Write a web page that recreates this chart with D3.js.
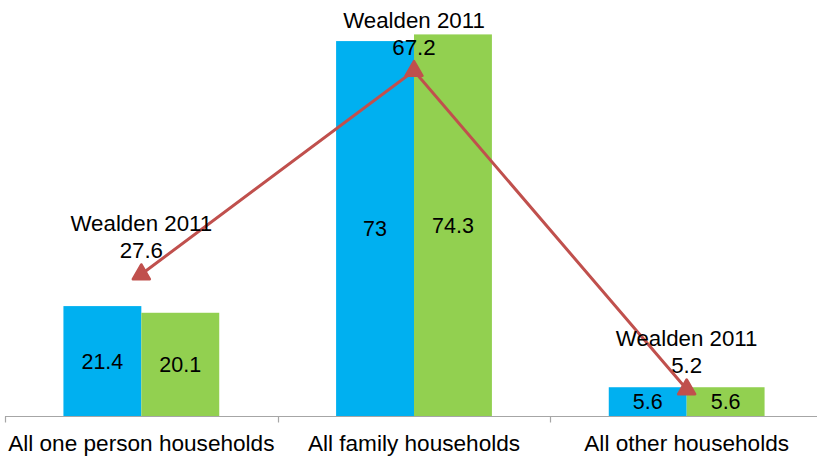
<!DOCTYPE html>
<html><head><meta charset="utf-8">
<script src="https://d3js.org/d3.v7.min.js"></script>
<style>body{margin:0;background:#fff;} svg{display:block;font-family:"Liberation Sans",Arial,sans-serif;}</style>
</head><body>
<svg id="c" width="817" height="457"></svg>
<script>
const categories = ["All one person households", "All family households", "All other households"];
const seriesBlue = [21.4, 73, 5.6];
const seriesGreen = [20.1, 74.3, 5.6];
const wealden = [27.6, 67.2, 5.2];
const lineLabel = "Wealden 2011";

const svg = d3.select("#c");
const x = d3.scaleBand().domain(categories).range([5, 823]).paddingInner(0).paddingOuter(0);
const y = d3.scaleLinear().domain([0, 81]).range([416, 0]);
const sub = d3.scaleBand().domain([0, 1]).range([0, x.bandwidth()]).paddingInner(0).paddingOuter(0.75);
const colors = ["#00B0F0", "#92D050"];
const series = [seriesBlue, seriesGreen];

series.forEach((vals, si) => {
  const g = svg.append("g");
  g.selectAll("rect").data(vals).join("rect")
    .attr("x", (d, i) => x(categories[i]) + sub(si))
    .attr("width", sub.bandwidth())
    .attr("y", d => y(d))
    .attr("height", d => y(0) - y(d))
    .attr("fill", colors[si]);
  g.selectAll("text").data(vals).join("text")
    .attr("x", (d, i) => x(categories[i]) + sub(si) + sub.bandwidth() / 2)
    .attr("y", d => (y(d) + y(0)) / 2)
    .attr("dy", "0.35em")
    .attr("text-anchor", "middle")
    .attr("font-size", 21.5)
    .attr("fill", "#000")
    .text(d => d);
});

// axis
const axis = svg.append("g").attr("transform", "translate(0,416.5)");
axis.append("line").attr("x1", 5).attr("x2", 817).attr("stroke", "#A6A6A6").attr("stroke-width", 1.2);
const tickPos = categories.map(c => x(c)).concat([x.range()[1]]);
axis.selectAll("line.t").data(tickPos).join("line").attr("class", "t")
  .attr("x1", d => Math.round(d) + 0.5).attr("x2", d => Math.round(d) + 0.5)
  .attr("y1", 0).attr("y2", 6).attr("stroke", "#A6A6A6").attr("stroke-width", 1.2);
axis.selectAll("text").data(categories).join("text")
  .attr("x", d => x(d) + x.bandwidth() / 2)
  .attr("y", 27)
  .attr("dy", "0.35em")
  .attr("text-anchor", "middle")
  .attr("font-size", 22.6)
  .attr("fill", "#000")
  .text(d => d);

// line
const cx = (d, i) => x(categories[i]) + x.bandwidth() / 2;
const line = d3.line().x(cx).y(d => y(d));
svg.append("path").datum(wealden).attr("d", line)
  .attr("fill", "none").attr("stroke", "#C0504D").attr("stroke-width", 3);
svg.selectAll("path.m").data(wealden).join("path").attr("class", "m")
  .attr("d", d3.symbol().type(d3.symbolTriangle).size(125))
  .attr("transform", (d, i) => `translate(${cx(d, i)},${y(d)})`)
  .attr("fill", "#C0504D").attr("stroke", "#C0504D").attr("stroke-width", 2.5).attr("stroke-linejoin", "round");

const lbl = svg.append("g");
wealden.forEach((d, i) => {
  lbl.append("text").attr("x", cx(d, i)).attr("y", y(d) - 51).attr("dy", "0.35em")
    .attr("text-anchor", "middle").attr("font-size", 22.3).text(lineLabel);
  lbl.append("text").attr("x", cx(d, i)).attr("y", y(d) - 24).attr("dy", "0.35em")
    .attr("text-anchor", "middle").attr("font-size", 22.3).text(d);
});
</script>
</body></html>
